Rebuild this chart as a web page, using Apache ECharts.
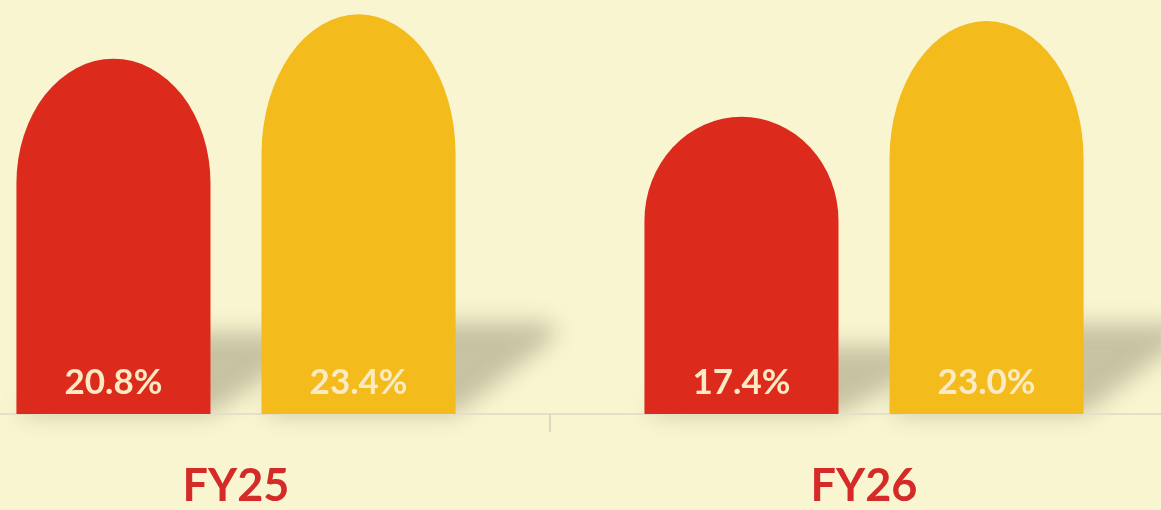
<!DOCTYPE html>
<html>
<head>
<meta charset="utf-8">
<script src="https://cdn.jsdelivr.net/npm/echarts@6/dist/echarts.min.js"></script>
<style>
  html, body { margin: 0; padding: 0; background: #f9f5d0; overflow: hidden; width: 1161px; height: 510px; }
  #chart { position: absolute; left: -78px; top: 0; width: 1256px; height: 510px; }
</style>
</head>
<body>
<div id="chart"></div>
<script>
// ---- data ----
const categories = ['FY25', 'FY26'];
const redValues = [20.8, 17.4];
const yellowValues = [23.4, 23.0];
const seriesValues = [redValues, yellowValues];
const seriesColors = ['#dc2b1c', '#f3bb1b'];

// ---- geometry helpers (derived from the axis scale) ----
function barGeom(api, seriesIdx) {
  const i = api.value(0);
  const v = api.value(1);
  const catW = api.size([1, 0])[0];
  const barW = catW * 0.309;
  const gap = barW * 0.263;
  const base = api.coord([i, 0]);
  const topPt = api.coord([i, v]);
  const x0 = seriesIdx === 0 ? base[0] - gap / 2 - barW : base[0] + gap / 2;
  return { x0: x0, w: barW, base: base[1], top: topPt[1], h: base[1] - topPt[1] };
}

function makeBarRender(seriesIdx) {
  return function (params, api) {
    const g = barGeom(api, seriesIdx);
    const rx = g.w / 2;
    const ry = Math.min(g.h * 0.35, g.h);
    const d = 'M' + g.x0 + ',' + g.base +
      ' L' + g.x0 + ',' + (g.top + ry) +
      ' A' + rx + ',' + ry + ' 0 0 1 ' + (g.x0 + g.w) + ',' + (g.top + ry) +
      ' L' + (g.x0 + g.w) + ',' + g.base + ' Z';
    return {
      type: 'group',
      children: [
        {
          type: 'path',
          shape: { pathData: d },
          style: { fill: seriesColors[seriesIdx] }
        },
        {
          type: 'text',
          style: {
            text: api.value(1).toFixed(1) + '%',
            x: g.x0 + g.w / 2,
            y: g.base - 31,
            fill: '#fbeac4',
            font: 'bold 35px Lato',
            align: 'center',
            verticalAlign: 'middle'
          }
        }
      ]
    };
  };
}

function makeShadowRender(seriesIdx) {
  return function (params, api) {
    const g = barGeom(api, seriesIdx);
    const dx = g.w * 0.56;
    const dh = g.h * 0.23;
    const off = 5000;
    const r = 26;
    const x0 = g.x0 - off;
    const d = 'M' + x0 + ',' + g.base +
      ' L' + (x0 + dx) + ',' + (g.base - dh) +
      ' L' + (x0 + g.w + dx - r) + ',' + (g.base - dh) +
      ' Q' + (x0 + g.w + dx) + ',' + (g.base - dh) + ' ' + (x0 + g.w + dx - r * 0.6) + ',' + (g.base - dh + r * 0.8) +
      ' L' + (x0 + g.w) + ',' + g.base + ' Z';
    return {
      type: 'path',
      shape: { pathData: d },
      style: {
        fill: '#000',
        shadowColor: 'rgba(125,120,95,0.4)',
        shadowBlur: 22,
        shadowOffsetX: off,
        shadowOffsetY: 0
      }
    };
  };
}

const chart = echarts.init(document.getElementById('chart'), null, { renderer: 'canvas' });

const series = [];
seriesValues.forEach(function (vals, s) {
  series.push({
    type: 'custom',
    name: 'shadow' + s,
    z: 1,
    silent: true,
    renderItem: makeShadowRender(s),
    data: vals.map(function (v, i) { return [i, v]; })
  });
});
seriesValues.forEach(function (vals, s) {
  series.push({
    type: 'custom',
    name: 'bar' + s,
    z: 3,
    renderItem: makeBarRender(s),
    data: vals.map(function (v, i) { return [i, v]; })
  });
});

chart.setOption({
  backgroundColor: '#f9f5d0',
  animation: false,
  grid: { left: 0, right: 0, top: 4, bottom: 96, containLabel: false },
  xAxis: {
    type: 'category',
    data: categories,
    z: 2,
    axisLine: { show: true, lineStyle: { color: '#e4dfc6', width: 2 } },
    axisTick: { show: true, length: 18, lineStyle: { color: '#dcd7bf', width: 2 } },
    axisLabel: {
      color: '#d42a28',
      fontFamily: 'Lato',
      fontWeight: 'bold',
      fontSize: 45,
      margin: 50
    }
  },
  yAxis: {
    type: 'value',
    min: 0,
    max: 24,
    show: false,
    splitLine: { show: false }
  },
  series: series
});
</script>
</body>
</html>
